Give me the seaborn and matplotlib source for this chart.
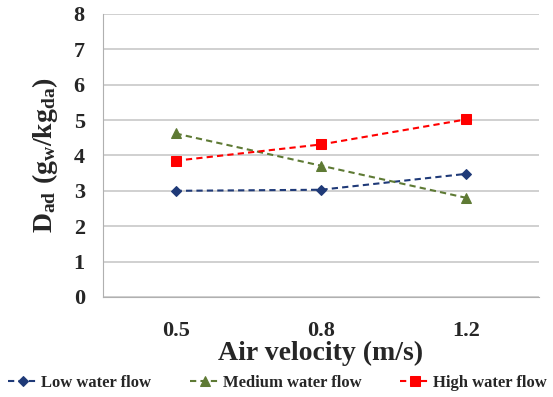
import pandas as pd
import matplotlib.pyplot as plt
import seaborn as sns
import numpy as np

# Data
velocities = ['0.5', '0.8', '1.2']
low_flow = [3.0, 3.03, 3.48]
medium_flow = [4.62, 3.71, 2.80]
high_flow = [3.85, 4.31, 5.02]
series_names = ['Low water flow', 'Medium water flow', 'High water flow']

df = pd.DataFrame({
    'Velocity': velocities * 3,
    'Dad': low_flow + medium_flow + high_flow,
    'Series': np.repeat(series_names, len(velocities)),
})

sns.set_style('white')
plt.rcParams['font.family'] = ['Liberation Serif', 'DejaVu Serif']
plt.rcParams['mathtext.fontset'] = 'custom'
plt.rcParams['mathtext.rm'] = 'Liberation Serif:bold'
plt.rcParams['mathtext.it'] = 'Liberation Serif:bold'
plt.rcParams['mathtext.bf'] = 'Liberation Serif:bold'

fig = plt.figure(figsize=(5.53, 3.97), dpi=100)
ax = fig.add_axes([0.186, 0.252, 0.789, 0.713])

palette = {'Low water flow': '#1f3a78', 'Medium water flow': '#5e7a34', 'High water flow': '#ff0000'}
markers = {'Low water flow': 'D', 'Medium water flow': '^', 'High water flow': 's'}
msize = {'Low water flow': 5, 'Medium water flow': 6.5, 'High water flow': 7.5}

for name in series_names:
    sub = df[df['Series'] == name]
    sns.lineplot(data=sub, x='Velocity', y='Dad', ax=ax, color=palette[name],
                 marker=markers[name], markersize=msize[name], markeredgecolor=palette[name],
                 linestyle=(0, (3, 2)), linewidth=1.5, label=name, sort=False)

ax.set_xlim(-0.5, 2.5)
ax.set_ylim(0, 8)
ax.set_yticks(range(0, 9))
ax.yaxis.grid(True, color='#c8c8c8', linewidth=1.2)
ax.set_axisbelow(True)

for s in ['top', 'right']:
    ax.spines[s].set_visible(False)
ax.spines['left'].set_color('#b0b0b0')
ax.spines['bottom'].set_color('#b0b0b0')

ax.tick_params(axis='x', which='major', length=0, labelsize=16, pad=17)
ax.set_xticks([0.5, 1.5, 2.5], minor=True)
ax.tick_params(axis='x', which='minor', length=5, color='#b0b0b0')
ax.tick_params(axis='y', length=5, color='#b0b0b0', labelsize=16, pad=8)
for lab in ax.get_xticklabels() + ax.get_yticklabels():
    lab.set_fontweight('bold')

ax.set_xlabel('Air velocity (m/s)', fontsize=20, fontweight='bold', labelpad=0)
ax.set_ylabel(r'$\mathrm{D_{ad}\ (g_{w}/kg_{da})}$', fontsize=20, labelpad=10)

ax.legend(loc='upper center', bbox_to_anchor=(0.40, -0.275), ncol=3, frameon=False,
          prop={'weight': 'bold', 'size': 12}, handlelength=1.8, columnspacing=2.3,
          handletextpad=0.2, borderaxespad=0, borderpad=0)

plt.savefig('out.png', dpi=100)
